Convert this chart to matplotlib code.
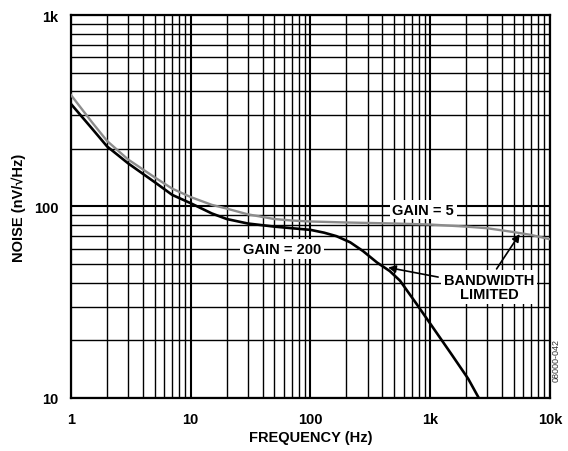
import matplotlib
matplotlib.use('Agg')
import matplotlib.pyplot as plt
from matplotlib.ticker import FixedLocator, FixedFormatter, LogLocator, NullFormatter

plt.rcParams['font.family'] = ['Liberation Sans', 'DejaVu Sans']

# values
freq_g200 = [1, 1.5, 2, 3, 5, 7, 10, 15, 20, 30, 50, 70, 100, 130, 165, 215, 275, 360, 460, 560,
             770, 1000, 1500, 2080, 2550]
noise_g200 = [343, 255, 206, 168, 134, 115, 104, 92, 86, 81.5, 78.5, 77, 75.5, 73, 70, 65, 58.5, 51, 46, 41,
              31, 24.5, 17, 12.6, 10]

freq_g5 = [1, 1.5, 2, 3, 5, 7, 10, 15, 20, 30, 50, 70, 100, 200, 500, 1000, 2000, 3000, 5000, 7000, 10000]
noise_g5 = [382, 275, 220, 176, 142, 124, 112, 102, 97.5, 91, 86, 84.5, 83.5, 82.5, 81.5, 80.5, 78.5, 77, 73.5, 71, 67.5]

x_ticks = [1, 10, 100, 1000, 10000]
x_ticklabels = ['1', '10', '100', '1k', '10k']
y_ticks = [10, 100, 1000]
y_ticklabels = ['10', '100', '1k']

fig = plt.figure(figsize=(5.68, 4.52), dpi=100)
ax = fig.add_axes([0.125, 0.1173, 0.843, 0.8473])

ax.plot(freq_g5, noise_g5, color='#8c8c8c', lw=1.7, zorder=3)
ax.plot(freq_g200, noise_g200, color='black', lw=1.9, zorder=4)

ax.set_xscale('log')
ax.set_yscale('log')
ax.set_xlim(1, 10000)
ax.set_ylim(10, 1000)

ax.xaxis.set_major_locator(FixedLocator(x_ticks))
ax.xaxis.set_major_formatter(FixedFormatter(x_ticklabels))
ax.yaxis.set_major_locator(FixedLocator(y_ticks))
ax.yaxis.set_major_formatter(FixedFormatter(y_ticklabels))
for axis in (ax.xaxis, ax.yaxis):
    axis.set_minor_locator(LogLocator(base=10, subs=range(2, 10)))
    axis.set_minor_formatter(NullFormatter())

ax.grid(which='major', color='black', lw=1.5, zorder=1)
ax.grid(which='minor', color='black', lw=1.0, zorder=1)
ax.set_axisbelow(True)
ax.tick_params(which='both', length=0, labelsize=10.5)
ax.tick_params(axis='x', pad=10)
ax.tick_params(axis='y', pad=9)
for lbl in ax.get_xticklabels() + ax.get_yticklabels():
    lbl.set_fontweight('bold')
for sp in ax.spines.values():
    sp.set_linewidth(1.6)

ax.set_xlabel('FREQUENCY (Hz)', fontsize=10.5, fontweight='bold')
ax.set_ylabel('NOISE (nV/√Hz)', fontsize=10.5, fontweight='bold')
ax.xaxis.set_label_coords(0.5, -0.083)
ax.yaxis.set_label_coords(-0.094, 0.5)

box = dict(facecolor='white', edgecolor='none', pad=2)
ax.text(875, 96.2, 'GAIN = 5', fontsize=10.5, fontweight='bold', ha='center', va='center',
        bbox=box, zorder=5)
ax.text(57.5, 60, 'GAIN = 200', fontsize=10.5, fontweight='bold', ha='center', va='center',
        bbox=box, zorder=5)
ax.text(3100, 38, 'BANDWIDTH\nLIMITED', fontsize=10.5, fontweight='bold', ha='center', va='center',
        linespacing=1.0, bbox=box, zorder=5)

arrow = dict(arrowstyle='-|>', color='black', lw=1.2, mutation_scale=11, shrinkA=0, shrinkB=0)
ax.annotate('', xy=(446, 48), xytext=(1167, 42.8), arrowprops=arrow, zorder=6)
ax.annotate('', xy=(5600, 71.8), xytext=(3590, 47.2), arrowprops=arrow, zorder=6)

fig.text(0.979, 0.2035, '08000-042', rotation=90, fontsize=6.5, color='#333333',
         ha='center', va='center')

fig.savefig('out.png', dpi=100)
